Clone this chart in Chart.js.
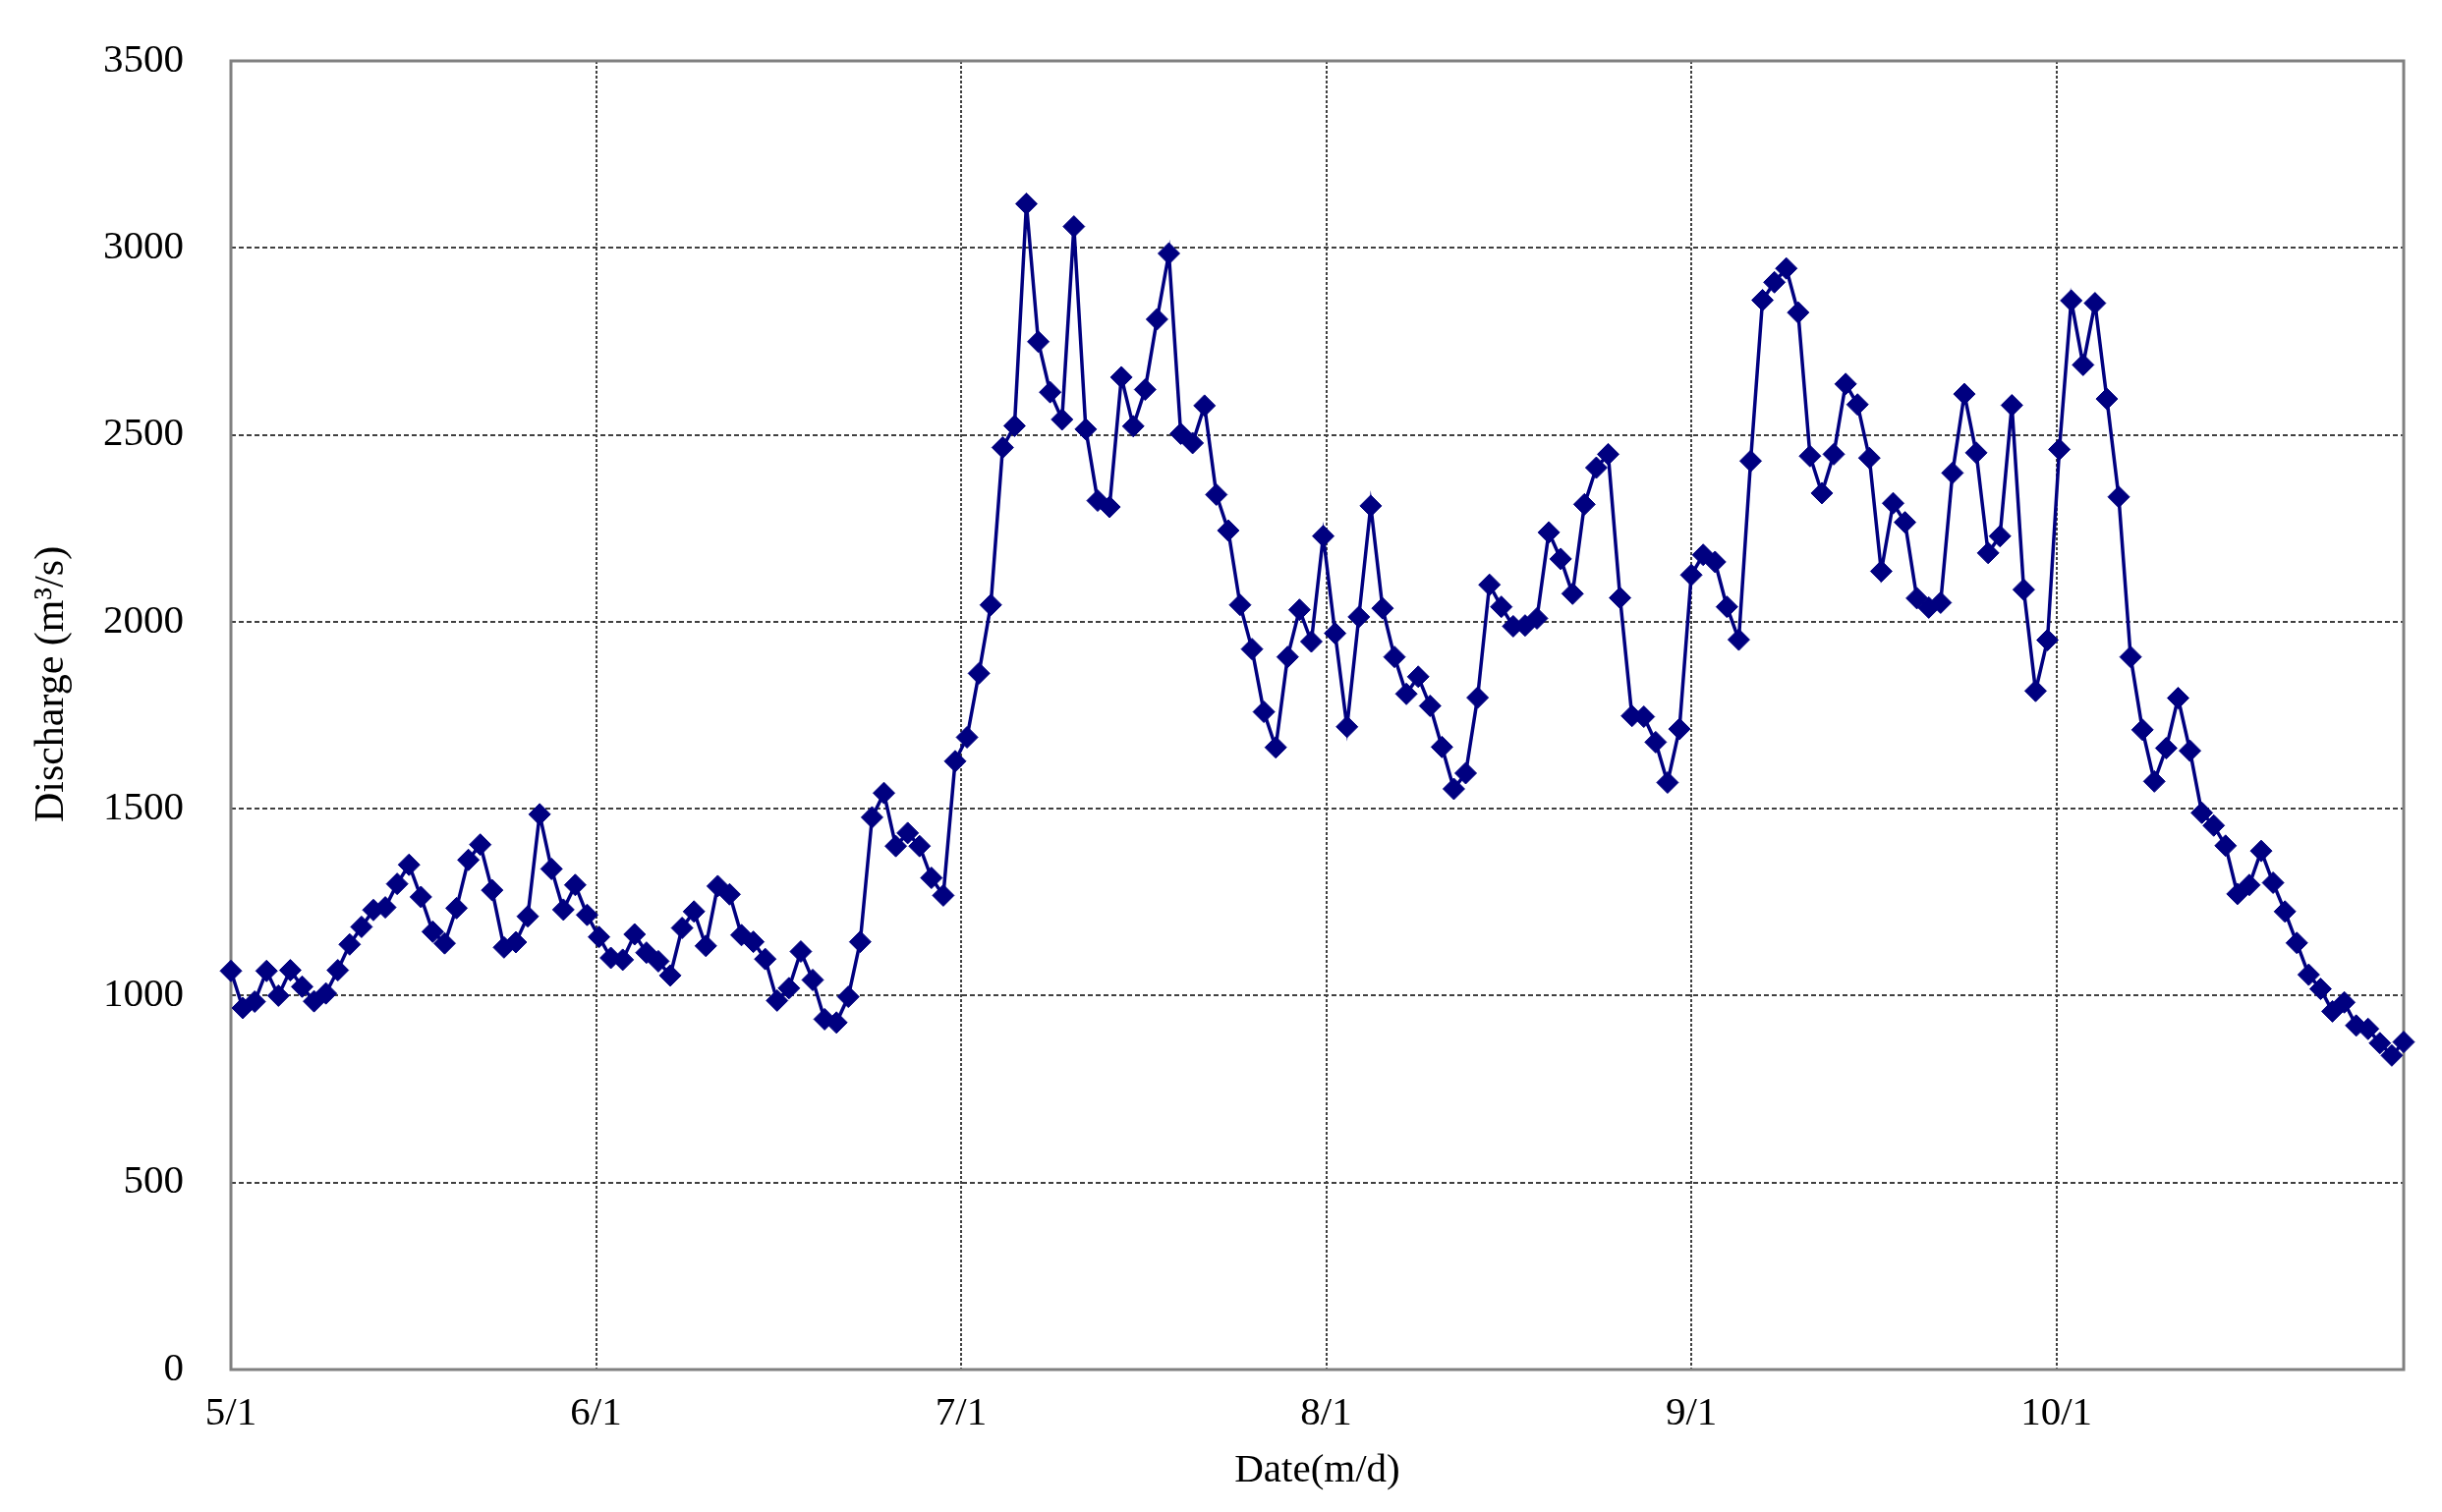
<!DOCTYPE html>
<html>
<head>
<meta charset="utf-8">
<script src="https://cdn.jsdelivr.net/npm/chart.js@4/dist/chart.umd.min.js"></script>
<style>
  html, body { margin: 0; padding: 0; background: #fff; }
  #wrap { width: 2485px; height: 1539px; }
</style>
</head>
<body>
<div id="wrap"><canvas id="chart" width="2485" height="1539"></canvas></div>
<script>
// daily discharge (m3/s), 5/1 .. 10/31
const may = [1066, 967, 984, 1066, 1000, 1068, 1024, 985, 1006, 1068, 1137, 1184, 1229, 1236, 1299, 1350,
  1264, 1171, 1140, 1234, 1363, 1404, 1282, 1129, 1143, 1212, 1485, 1339, 1230, 1296, 1216];
const june = [1157, 1101, 1096, 1164, 1115, 1092, 1054, 1181, 1225, 1133, 1293, 1271, 1162, 1144, 1098,
  987, 1020, 1118, 1042, 937, 928, 997, 1144, 1477, 1542, 1400, 1435, 1400, 1315, 1268];
const july = [1627, 1691, 1862, 2045, 2466, 2524, 3118, 2749, 2614, 2541, 3057, 2515, 2324, 2307, 2654,
  2523, 2621, 2809, 2985, 2503, 2478, 2578, 2340, 2244, 2045, 1927, 1759, 1664, 1906, 2032, 1947];
const august = [2229, 1969, 1719, 2013, 2310, 2036, 1906, 1807, 1853, 1775, 1665, 1553, 1595, 1797, 2099,
  2040, 1988, 1990, 2009, 2239, 2168, 2075, 2314, 2412, 2448, 2064, 1748, 1746, 1678, 1570, 1713];
const september = [2125, 2179, 2160, 2040, 1952, 2430, 2860, 2908, 2945, 2827, 2443, 2344, 2448, 2636, 2581,
  2438, 2135, 2317, 2266, 2063, 2038, 2051, 2398, 2609, 2452, 2184, 2229, 2579, 2086, 1815];
const october = [1951, 2461, 2859, 2687, 2852, 2596, 2334, 1906, 1711, 1573, 1662, 1796, 1655, 1489, 1455,
  1401, 1272, 1296, 1387, 1302, 1225, 1141, 1056, 1018, 958, 982, 920, 911, 873, 840, 876];

// x tick labels and where they sit (day index from 5/1)
const xTickLabels = ["5/1", "6/1", "7/1", "8/1", "9/1", "10/1"];
const xTickPos = [0, 30.75, 61.5, 92.25, 123, 153.75];
const yTicks = [0, 500, 1000, 1500, 2000, 2500, 3000, 3500];

const discharge = [].concat(may, june, july, august, september, october);
const points = discharge.map((v, i) => ({ x: i, y: v }));

const FONT = "'Liberation Serif', 'Times New Roman', serif";
const NBSP = "\u00A0";

// grey frame round the plot area
const frame = {
  id: "frame",
  beforeDatasetsDraw(chart) {
    const { ctx, chartArea: a } = chart;
    ctx.save();
    ctx.strokeStyle = "#808080";
    ctx.lineWidth = 3;
    ctx.strokeRect(a.left, a.top, a.right - a.left, a.bottom - a.top);
    ctx.restore();
  },
};

new Chart(document.getElementById("chart"), {
  type: "line",
  data: {
    datasets: [{
      data: points,
      borderColor: "#000080",
      backgroundColor: "#000080",
      borderWidth: 3.5,
      tension: 0,
      pointStyle: "rectRot",
      pointRadius: 11,
      pointBorderWidth: 1,
      pointBackgroundColor: "#000080",
      pointBorderColor: "#000080",
      clip: false,
    }],
  },
  options: {
    responsive: false,
    animation: false,
    devicePixelRatio: 1,
    layout: { padding: { top: 62, right: 39, left: 0, bottom: 0 } },
    plugins: { legend: { display: false }, tooltip: { enabled: false } },
    scales: {
      x: {
        type: "linear",
        min: 0,
        max: discharge.length - 1,
        afterBuildTicks: (s) => { s.ticks = xTickPos.map((v) => ({ value: v })); },
        afterFit: (s) => { s.height = 145; },
        ticks: {
          color: "#000",
          font: { family: FONT, size: 41 },
          padding: 21,
          maxRotation: 0,
          autoSkip: false,
          callback: (v, i) => xTickLabels[i],
        },
        grid: { color: "#404040", lineWidth: 2, drawTicks: false },
        border: { display: false, dash: [3, 2] },
        title: {
          display: true,
          text: "Date(m/d)",
          color: "#000",
          font: { family: FONT, size: 41 },
          padding: { top: 0, bottom: 17 },
        },
      },
      y: {
        min: 0,
        max: 3500,
        afterBuildTicks: (s) => { s.ticks = yTicks.map((v) => ({ value: v })); },
        afterFit: (s) => {
          s.width = 235;
          // tick padding should not push the plot down
          s.paddingTop = 0;
          s.paddingBottom = 0;
        },
        ticks: {
          color: "#000",
          font: { family: FONT, size: 41 },
          padding: 48,
          callback: (v) => String(v),
        },
        grid: { color: "#404040", lineWidth: 2, drawTicks: false },
        border: { display: false, dash: [5, 3] },
        title: {
          display: true,
          text: NBSP.repeat(6) + "Discharge (m³/s)",
          color: "#000",
          font: { family: FONT, size: 42 },
          padding: { top: 28, bottom: 0 },
        },
      },
    },
  },
  plugins: [frame],
});
</script>
</body>
</html>
